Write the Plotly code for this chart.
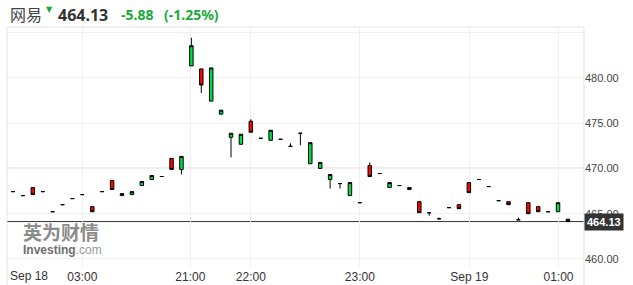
import plotly.graph_objects as go

# ---- data ----
idx = list(range(57))
opens = [467.44, 467.00, 467.89, 467.44, 465.22, 466.00, 466.67, 467.11, 465.78, 467.44,
         468.67, 467.00, 467.11, 468.11, 468.78, 469.11, 471.11, 469.89, 481.33, 481.00,
         477.44, 476.00, 473.44, 472.67, 475.22, 473.33, 473.11, 473.22, 472.44, 473.89,
         470.52, 470.00, 468.78, 468.33, 467.00, 466.22, 470.33, 469.44, 467.89, 468.11,
         467.67, 466.33, 465.11, 464.44, 465.67, 466.00, 468.44, 468.78, 468.00, 466.44,
         466.33, 464.33, 466.22, 465.78, 465.22, 465.22, 464.40]
closes = [467.44, 467.00, 467.11, 467.44, 465.22, 466.00, 466.67, 467.11, 465.22, 467.44,
          467.67, 467.22, 467.44, 468.56, 469.22, 469.11, 469.89, 471.33, 483.56, 479.22,
          481.11, 476.44, 473.89, 473.78, 474.00, 473.33, 474.22, 473.22, 472.44, 473.89,
          472.85, 470.67, 469.33, 468.33, 468.44, 466.22, 469.11, 469.44, 468.44, 468.11,
          467.89, 465.11, 465.11, 464.44, 465.67, 465.56, 467.33, 468.78, 468.00, 466.44,
          466.00, 464.33, 465.00, 465.22, 465.22, 466.22, 464.13]
highs_extra = {18: 484.44, 24: 475.44, 28: 472.78, 36: 470.67, 43: 464.56, 51: 464.56}
lows_extra = {17: 469.33, 19: 478.33, 22: 471.22, 29: 472.56, 32: 467.78, 33: 467.78, 42: 464.78}

prev_close = 470.01
last_price = 464.13
change = "-5.88"
change_pct = "(-1.25%)"
name = "网易"

y_ticks = [460, 465, 470, 475, 480, 485]
y_tick_text = ["460.00", "465.00", "470.00", "475.00", "480.00", ""]
x_tick_pos = [7, 17.9, 24, 35, 46.05, 55.05]
x_tick_text = ["03:00", "21:00", "22:00", "23:00", "Sep 19", "01:00"]
first_label = "Sep 18"

highs = [highs_extra.get(i, max(o, c)) for i, (o, c) in enumerate(zip(opens, closes))]
lows = [lows_extra.get(i, min(o, c)) for i, (o, c) in enumerate(zip(opens, closes))]

W, H = 633, 285
L, R, T, B = 7, 584, 27, 268


def px(x):
    return (x - L) / (R - L)


def py(y):
    return (B - y) / (B - T)


fig = go.Figure()
fig.add_trace(go.Candlestick(
    x=idx, open=opens, high=highs, low=lows, close=closes,
    increasing=dict(line=dict(color="#000000", width=1), fillcolor="#00dd44"),
    decreasing=dict(line=dict(color="#000000", width=1), fillcolor="#ff0000"),
    whiskerwidth=0, hoverinfo="skip", showlegend=False,
))

shapes = [
    # frame
    dict(type="line", xref="paper", yref="paper", x0=0, x1=1, y0=1, y1=1,
         line=dict(color="#e3e3e3", width=1)),
    dict(type="line", xref="paper", yref="paper", x0=0, x1=0, y0=1, y1=py(285),
         line=dict(color="#e3e3e3", width=1)),
    dict(type="line", xref="paper", yref="paper", x0=1, x1=1, y0=1, y1=py(285),
         line=dict(color="#e3e3e3", width=1)),
    # previous close
    dict(type="line", xref="paper", yref="y", x0=0, x1=1, y0=prev_close, y1=prev_close,
         line=dict(color="#e05050", width=1), layer="below"),
    # last price
    dict(type="line", xref="paper", yref="y", x0=0, x1=1, y0=last_price, y1=last_price,
         line=dict(color="#333333", width=1), layer="below"),
]

ann = [
    dict(x=px(8), y=py(14), xref="paper", yref="paper", xanchor="left", yanchor="middle",
         text=name, showarrow=False,
         font=dict(family="Noto Sans CJK SC", size=16, color="#444444")),
    dict(x=px(49), y=py(9), xref="paper", yref="paper", xanchor="center", yanchor="middle",
         text="▼", showarrow=False, font=dict(family="DejaVu Sans", size=8, color="#11aa33")),
    dict(x=px(56), y=py(15), xref="paper", yref="paper", xanchor="left", yanchor="middle",
         text="<b>%.2f</b>" % last_price, showarrow=False,
         font=dict(family="Noto Sans", size=16, color="#333333")),
    dict(x=px(119), y=py(15), xref="paper", yref="paper", xanchor="left", yanchor="middle",
         text="<b>%s</b>" % change, showarrow=False,
         font=dict(family="Noto Sans", size=14, color="#1aaa3a")),
    dict(x=px(162), y=py(15), xref="paper", yref="paper", xanchor="left", yanchor="middle",
         text="<b>%s</b>" % change_pct, showarrow=False,
         font=dict(family="Noto Sans", size=14, color="#1aaa3a")),
    # price tag
    dict(x=1, y=last_price, xref="paper", yref="y", xanchor="left", yanchor="middle",
         text="<b>%.2f</b>" % last_price, showarrow=False, bgcolor="#333333",
         borderpad=2, font=dict(family="Arial, Liberation Sans", size=11, color="#ffffff")),
    # first x label
    dict(x=px(8), y=py(276), xref="paper", yref="paper", xanchor="left", yanchor="middle",
         text=first_label, showarrow=False,
         font=dict(family="Arial, Liberation Sans", size=12, color="#333333")),
    # watermark
    dict(x=px(21), y=py(231), xref="paper", yref="paper", xanchor="left", yanchor="middle",
         text="<b>英为财情</b>", showarrow=False,
         font=dict(family="Noto Sans CJK SC", size=19, color="#8c8c8c")),
    dict(x=px(21), y=py(250), xref="paper", yref="paper", xanchor="left", yanchor="middle",
         text="<b>Investing</b><span style='color:#9a9a9a;font-weight:normal'>.com</span>",
         showarrow=False,
         font=dict(family="Arial, Liberation Sans", size=12, color="#6e6e6e")),
]

fig.update_layout(
    width=W, height=H,
    margin=dict(l=L, r=W - R, t=T, b=H - B),
    paper_bgcolor="#ffffff", plot_bgcolor="#ffffff",
    boxgap=0.5,
    shapes=shapes, annotations=ann,
    xaxis=dict(range=[-0.605, 57.62], rangeslider=dict(visible=False),
               tickmode="array", tickvals=x_tick_pos, ticktext=x_tick_text,
               showgrid=True, gridcolor="#f0f0f0", gridwidth=1, zeroline=False,
               showline=False, ticks="", ticklen=0, automargin=False,
               tickfont=dict(family="Arial, Liberation Sans", size=12, color="#333333")),
    yaxis=dict(range=[459.0, 485.63], side="right", tickmode="array",
               tickvals=y_ticks, ticktext=y_tick_text, automargin=False,
               showgrid=True, gridcolor="#f0f0f0", gridwidth=1, zeroline=False,
               showline=False, ticks="",
               tickfont=dict(family="Arial, Liberation Sans", size=11, color="#444444")),
)

fig.write_html("out.html")
